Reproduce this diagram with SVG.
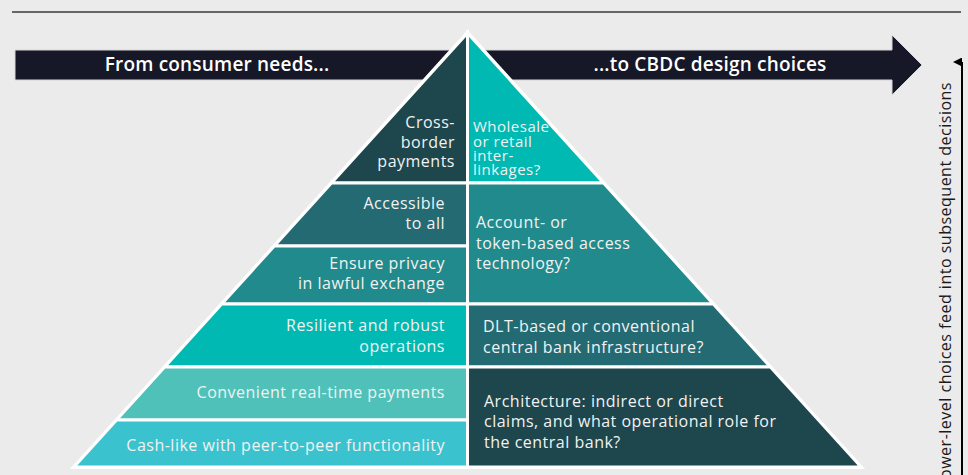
<svg xmlns="http://www.w3.org/2000/svg" width="968" height="475" viewBox="0 0 968 475">
  <defs>
    <style>
      .bg { fill: #ebebeb; }
      .piece { stroke: #ffffff; stroke-width: 3; stroke-linejoin: miter; }
      .t { font-family: "Open Sans", "Noto Sans", "Liberation Sans", sans-serif; font-size: 16px; letter-spacing: 0.5px; fill: #f2f2f2; }
      .tl { text-anchor: end; }
      .small { font-size: 15px; letter-spacing: 0.5px; }
      .head { font-family: "Open Sans", "Noto Sans", "Liberation Sans", sans-serif; font-size: 19px; font-weight: 600; letter-spacing: 0.2px; fill: #ffffff; text-anchor: middle; }
      .side { font-family: "Open Sans", "Noto Sans", "Liberation Sans", sans-serif; font-size: 16px; letter-spacing: 0.5px; fill: #1a1a1a; text-anchor: end; }
      .c1 { fill: #1d464d; }
      .c2 { fill: #00b9b3; }
      .c3 { fill: #246a72; }
      .c4 { fill: #218a8c; }
      .c5 { fill: #4fc1b9; }
      .c6 { fill: #3ac3cf; }
    </style>
    <marker id="arrowUp" viewBox="0 0 10 10" refX="5" refY="10" markerWidth="9" markerHeight="9" markerUnits="userSpaceOnUse" orient="auto-start-reverse">
      <path d="M0,10 L5,0 L10,10 Z" fill="#000000"/>
    </marker>
  </defs>

  <rect class="bg" x="0" y="0" width="968" height="475"/>
  <line x1="12" y1="12" x2="961" y2="12" stroke="#3a3a3a" stroke-width="1.5"/>

  <g id="band">
    <polygon points="15,50 892,50 892,35 922,65 892,95 892,80 15,80" fill="#161827" stroke="#d6d6d6" stroke-width="1"/>
    <text class="head" x="217" y="71">From consumer needs...</text>
    <text class="head" x="710" y="71">...to CBDC design choices</text>
  </g>

  <polygon points="467.5,30 865,469 70,469" fill="#ffffff"/>

  <g id="cross-border">
    <polygon class="piece c1" points="467.5,33 467.5,183 331.45,183"/>
    <text class="t tl" x="455" y="128">Cross-</text>
    <text class="t tl" x="455" y="148">border</text>
    <text class="t tl" x="455" y="167">payments</text>
  </g>
  <g id="wholesale">
    <polygon class="piece c2" points="467.5,33 603.55,183 467.5,183"/>
    <text class="t small" x="473" y="132">Wholesale</text>
    <text class="t small" x="473" y="147">or retail</text>
    <text class="t small" x="473" y="161">inter-</text>
    <text class="t small" x="473" y="175">linkages?</text>
  </g>
  <g id="accessible">
    <polygon class="piece c3" points="331.45,183 467.5,183 467.5,246 274.3,246"/>
    <text class="t tl" x="445" y="209">Accessible</text>
    <text class="t tl" x="445" y="229">to all</text>
  </g>
  <g id="privacy">
    <polygon class="piece c4" points="274.3,246 467.5,246 467.5,304 221.7,304"/>
    <text class="t tl" x="445" y="269">Ensure privacy</text>
    <text class="t tl" x="445" y="289">in lawful exchange</text>
  </g>
  <g id="account-token">
    <polygon class="piece c4" points="467.5,183 603.55,183 713.3,304 467.5,304"/>
    <text class="t" x="476" y="228">Account- or</text>
    <text class="t" x="476" y="249">token-based access</text>
    <text class="t" x="476" y="269">technology?</text>
  </g>
  <g id="resilient">
    <polygon class="piece c2" points="221.7,304 467.5,304 467.5,367 164.6,367"/>
    <text class="t tl" x="445" y="331">Resilient and robust </text>
    <text class="t tl" x="445" y="352">operations</text>
  </g>
  <g id="dlt">
    <polygon class="piece c3" points="467.5,304 713.3,304 770.4,367 467.5,367"/>
    <text class="t" x="483" y="332">DLT-based or conventional</text>
    <text class="t" x="483" y="353">central bank infrastructure?</text>
  </g>
  <g id="convenient">
    <polygon class="piece c5" points="164.6,367 467.5,367 467.5,420 116.5,420"/>
    <text class="t tl" x="445" y="398">Convenient real-time payments</text>
  </g>
  <g id="cash-like">
    <polygon class="piece c6" points="116.5,420 467.5,420 467.5,467 73.9,467"/>
    <text class="t tl" x="445" y="451">Cash-like with peer-to-peer functionality</text>
  </g>
  <g id="architecture">
    <polygon class="piece c1" points="467.5,367 770.4,367 861.1,467 467.5,467"/>
    <text class="t" x="484" y="407">Architecture: indirect or direct</text>
    <text class="t" x="484" y="427">claims, and what operational role for</text>
    <text class="t" x="484" y="448">the central bank?</text>
  </g>

  <g id="connectors">
    <line x1="962" y1="476" x2="962" y2="62" stroke="#000000" stroke-width="2" marker-end="url(#arrowUp)"/>
  </g>
  <g id="side-label">
    <text class="side" transform="translate(951,82) rotate(-90)">Lower-level choices feed into subsequent decisions</text>
  </g>
</svg>
